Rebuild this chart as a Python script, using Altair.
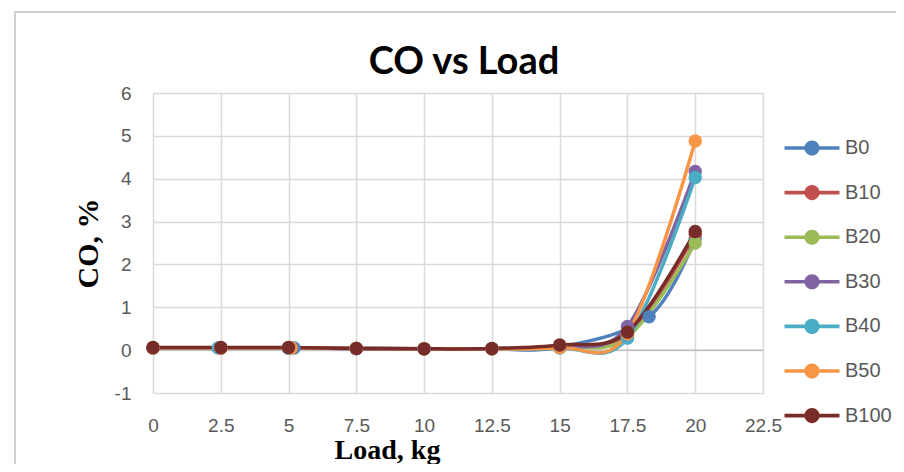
import altair as alt
import pandas as pd

series = ["B0", "B10", "B20", "B30", "B40", "B50", "B100"]
colors = ["#4F81BD", "#C0504D", "#9BBB59", "#8064A2", "#4BACC6", "#F79646", "#772C2A"]

loads_b0 = [0, 2.5, 5.2, 7.5, 10, 12.5, 15, 18.3, 20]
loads_b10 = [0, 2.5, 5, 7.5, 10, 12.5, 15, 17.5, 20]
loads_b20 = [0, 2.5, 5, 7.5, 10, 12.5, 15, 17.5, 20]
loads_b30 = [0, 2.5, 5, 7.5, 10, 12.5, 15, 17.5, 20]
loads_b40 = [0, 2.4, 5, 7.5, 10, 12.5, 15, 17.5, 20]
loads_b50 = [0, 2.5, 5.1, 7.5, 10, 12.5, 15, 17.5, 20]
loads_b100 = [0, 2.5, 5, 7.5, 10, 12.5, 15, 17.5, 20]

co_b0 = [0.05, 0.05, 0.05, 0.04, 0.03, 0.03, 0.07, 0.78, 2.60]
co_b10 = [0.05, 0.05, 0.05, 0.04, 0.03, 0.03, 0.08, 0.35, 2.70]
co_b20 = [0.05, 0.05, 0.05, 0.04, 0.03, 0.03, 0.07, 0.30, 2.50]
co_b30 = [0.05, 0.05, 0.05, 0.04, 0.03, 0.03, 0.07, 0.55, 4.17]
co_b40 = [0.05, 0.05, 0.05, 0.04, 0.03, 0.03, 0.05, 0.28, 4.03]
co_b50 = [0.05, 0.05, 0.05, 0.04, 0.03, 0.03, 0.06, 0.38, 4.88]
co_b100 = [0.06, 0.06, 0.06, 0.04, 0.03, 0.04, 0.12, 0.42, 2.77]

x_ticks = [0, 2.5, 5, 7.5, 10, 12.5, 15, 17.5, 20, 22.5]
y_ticks = [-1, 0, 1, 2, 3, 4, 5, 6]

all_loads = [loads_b0, loads_b10, loads_b20, loads_b30, loads_b40, loads_b50, loads_b100]
all_co = [co_b0, co_b10, co_b20, co_b30, co_b40, co_b50, co_b100]

rows = []
for i, (name, xs, ys) in enumerate(zip(series, all_loads, all_co)):
    for j, (xv, yv) in enumerate(zip(xs, ys)):
        rows.append({"series": name, "order": i, "idx": j, "load": xv, "co": yv})
df = pd.DataFrame(rows)

FONT = "Liberation Sans"
SERIF = "Liberation Serif"
HYPHEN_FIX = "replace(datum.label, '\u2212', '-')"

color = alt.Color(
    "series:N",
    scale=alt.Scale(domain=series, range=colors),
    sort=series,
    legend=alt.Legend(
        title=None,
        orient="none",
        legendX=645,
        legendY=41,
        symbolType="M-2,-0.13 H2 V0.13 H-2 Z M0.55,0 A0.55,0.55 0 1,1 -0.55,0 A0.55,0.55 0 1,1 0.55,0 Z",
        symbolSize=756,
        symbolStrokeWidth=0,
        labelFont=FONT,
        labelFontSize=20,
        labelColor="#595959",
        labelOffset=19,
        rowPadding=20.6,
        padding=0,
        labelLimit=200,
    ),
)

x_enc = alt.X(
    "load:Q",
    scale=alt.Scale(domain=[0, 22.5], nice=False, zero=False),
    axis=alt.Axis(
        values=x_ticks,
        format=".3~g",
        title="Load, kg",
        titleFont=SERIF,
        titleFontSize=28,
        titleFontWeight="bold",
        titleColor="black",
        titleX=234,
        titleY=65,
        titleAlign="center",
        titleBaseline="alphabetic",
        labelPadding=23,
        labelFont=FONT,
        labelFontSize=19,
        labelColor="#595959",
        domain=False,
        ticks=False,
        gridColor="#d9d9d9",
        gridWidth=1.5,
        labelFlush=False,
    ),
)
y_enc = alt.Y(
    "co:Q",
    scale=alt.Scale(domain=[-1, 6], nice=False, zero=False),
    axis=alt.Axis(
        values=y_ticks,
        labelExpr=HYPHEN_FIX,
        title="CO, %",
        titleFont=SERIF,
        titleFontSize=30,
        titleFontWeight="bold",
        titleColor="black",
        titleX=-56,
        titleY=150,
        titleAngle=270,
        titleAlign="center",
        titleBaseline="alphabetic",
        labelPadding=22,
        labelFont=FONT,
        labelFontSize=19,
        labelColor="#595959",
        domain=False,
        ticks=False,
        gridColor="#d9d9d9",
        gridWidth=1.5,
        labelFlush=False,
    ),
)

base = alt.Chart(df)

frame = base.mark_rect(fill="transparent", stroke="#d0d0d0", strokeWidth=1.5, clip=False).encode(
    x=alt.value(-138), x2=alt.value(900), y=alt.value(-81), y2=alt.value(500)
)

zero_rule = alt.Chart(pd.DataFrame({"z": [0]})).mark_rule(color="#bfbfbf", strokeWidth=1.5).encode(
    y=alt.Y("z:Q", scale=alt.Scale(domain=[-1, 6], nice=False, zero=False))
)

lines = base.mark_line(interpolate="cardinal", tension=0, strokeWidth=3.5).encode(
    x=x_enc,
    y=y_enc,
    color=color,
    detail="series:N",
    order="idx:Q",
)

points = base.mark_circle(size=180, opacity=1).encode(
    x="load:Q",
    y="co:Q",
    color=alt.Color("series:N", scale=alt.Scale(domain=series, range=colors), legend=None),
    order="order:Q",
)

chart = (
    alt.layer(frame, zero_rule, lines, points)
    .properties(
        width=610,
        height=300,
        padding={"left": 145, "top": 85, "right": 133, "bottom": 71},
        autosize=alt.AutoSizeParams(type="none"),
        title=alt.TitleParams(
            "CO vs Load",
            font="Lato, Liberation Sans",
            fontSize=38,
            fontWeight="bold",
            color="black",
            anchor="middle",
            dx=6,
            baseline="alphabetic",
            offset=-101,
        ),
    )
    .configure_view(stroke=None)
    .configure(background="white")
)

chart.save("out.html", embed_options={"renderer": "svg", "actions": False})
